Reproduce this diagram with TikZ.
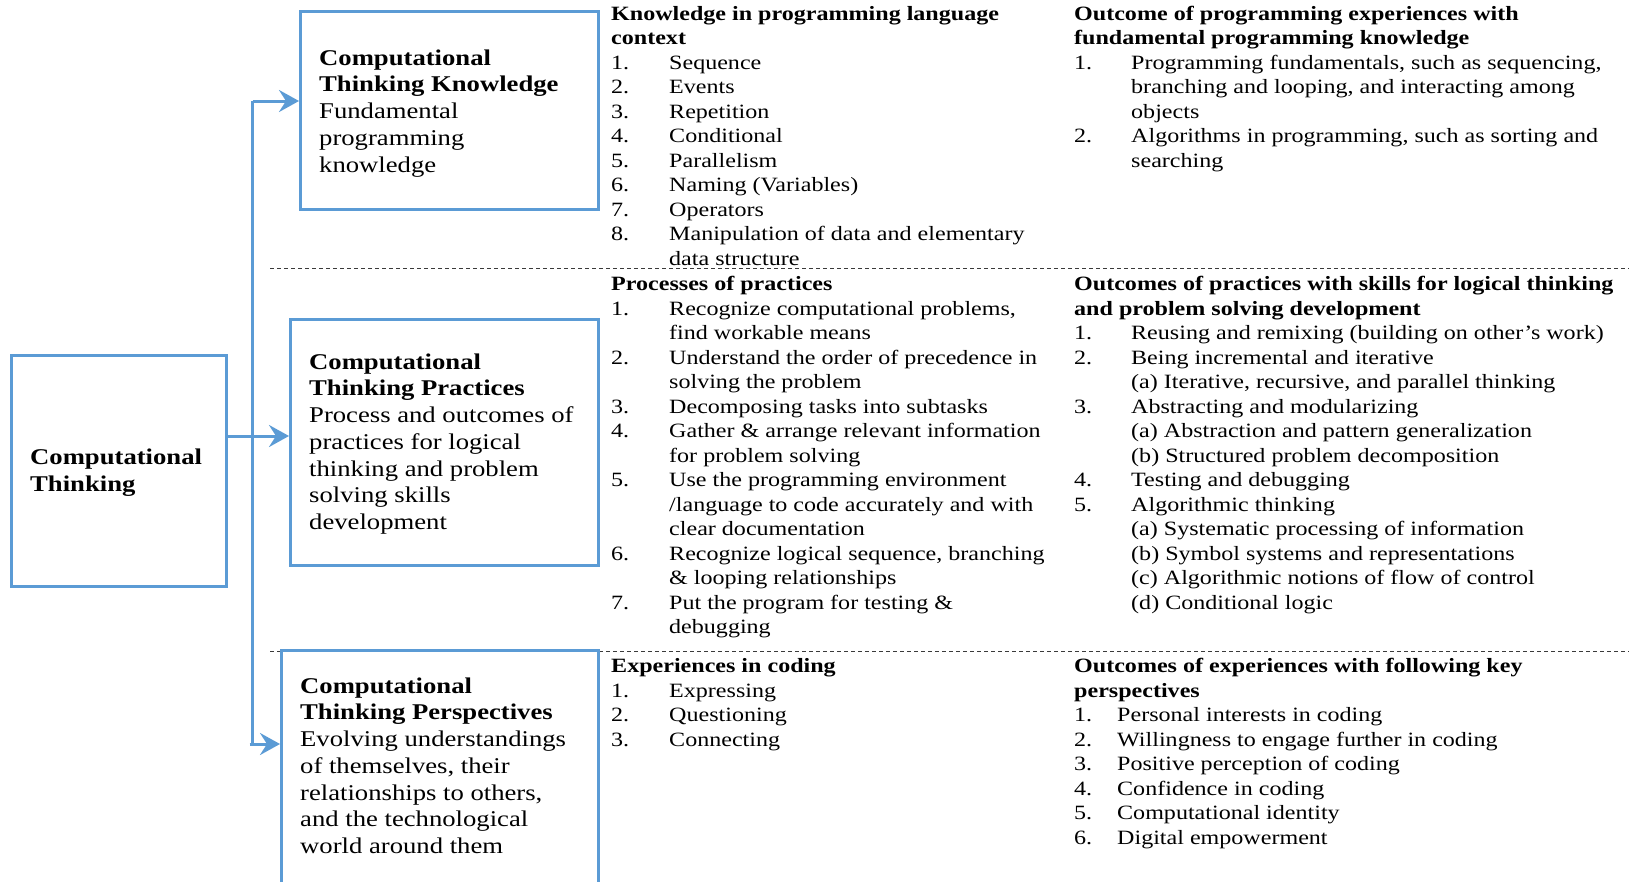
\documentclass[tikz,border=0pt]{standalone}
\usepackage{fontspec}
\setmainfont{Liberation Serif}[FakeStretch=1.185]
\usetikzlibrary{arrows.meta}
\definecolor{ctblue}{HTML}{5B9BD5}
\definecolor{rulegray}{HTML}{3A3A3A}
% list label of fixed width, and the indent of a wrapped list line
\newcommand\numlabel[2][58pt]{\makebox[#1][l]{#2}}
\newcommand\wrapind[1][58pt]{\hspace*{#1}}

\begin{document}
\begin{tikzpicture}[x=1pt,y=-1pt,
  box/.style={draw=ctblue, line width=2.5pt, inner sep=0pt, anchor=north west},
  boxtext/.style={anchor=north west, inner sep=0pt, align=left,
    font=\fontsize{22.5}{26.75}\selectfont},
  coltext/.style={anchor=north west, inner sep=0pt, align=left,
    font=\fontsize{20.3}{24.5}\selectfont},
  link/.style={draw=ctblue, line width=3pt},
  arr/.style={link, -{Stealth[length=20pt,width=22pt,inset=7pt]}},
  sep/.style={draw=rulegray, line width=1pt, dash pattern=on 4pt off 3pt}
]
\useasboundingbox (0,0) rectangle (1629,881);
\fill[white] (0,0) rectangle (1629,881);

% section separators
\coordinate (s1a) at (270,268);   \coordinate (s1b) at (1629,268);
\coordinate (s2a) at (270,651.5); \coordinate (s2b) at (1629,651.5);
\draw[sep] (s1a) -- (s1b);
\draw[sep] (s2a) -- (s2b);

% boxes
\node[box, minimum width=215pt, minimum height=231pt] (ct) at (10,354) {};
\node[box, minimum width=298pt, minimum height=198pt] (b1) at (299,10) {};
\node[box, minimum width=308pt, minimum height=246pt] (b2) at (289,318) {};
\node[box, minimum width=317pt, minimum height=246pt] (b3) at (280,649) {};

\node[boxtext] (ctt) at (30,445.8) {\strut\textbf{Computational}\\\textbf{Thinking}};
\node[boxtext] (b1t) at (319,46.3) {\strut\textbf{Computational}\\\textbf{Thinking Knowledge}\\
  Fundamental\\programming\\knowledge};
\node[boxtext] (b2t) at (309,350.3) {\strut\textbf{Computational}\\\textbf{Thinking Practices}\\
  Process and outcomes of\\practices for logical\\thinking and problem\\solving skills\\development};
\node[boxtext] (b3t) at (300,674.3) {\strut\textbf{Computational}\\\textbf{Thinking Perspectives}\\
  Evolving understandings\\of themselves, their\\relationships to others,\\and the technological\\world around them};

% connectors
\coordinate (jt) at (252.5,101);
\coordinate (jb) at (252.5,744);
\coordinate (jm) at (0,436);
\draw[link] (jt) -- (jb);
\draw[arr] (jt) -- (jt -| b1.west);
\draw[arr] (ct.east |- jm) -- (b2.west |- jm);
\draw[arr] ([xshift=-3pt]jb) -- (jb -| b3.west);

% knowledge row
\node[coltext] (k1) at (611,3.05) {\strut\textbf{Knowledge in programming language}\\\textbf{context}\\
  \numlabel{1.}Sequence\\
  \numlabel{2.}Events\\
  \numlabel{3.}Repetition\\
  \numlabel{4.}Conditional\\
  \numlabel{5.}Parallelism\\
  \numlabel{6.}Naming (Variables)\\
  \numlabel{7.}Operators\\
  \numlabel{8.}Manipulation of data and elementary\\
  \wrapind data structure};
\node[coltext] (k2) at (1074,3.05) {\strut\textbf{Outcome of programming experiences with}\\\textbf{fundamental programming knowledge}\\
  \numlabel[57pt]{1.}Programming fundamentals, such as sequencing,\\
  \wrapind[57pt]branching and looping, and interacting among\\
  \wrapind[57pt]objects\\
  \numlabel[57pt]{2.}Algorithms in programming, such as sorting and\\
  \wrapind[57pt]searching};

% practices row
\node[coltext] (p1) at (611,273.25) {\strut\textbf{Processes of practices}\\
  \numlabel{1.}Recognize computational problems,\\
  \wrapind find workable means\\
  \numlabel{2.}Understand the order of precedence in\\
  \wrapind solving the problem\\
  \numlabel{3.}Decomposing tasks into subtasks\\
  \numlabel{4.}Gather \& arrange relevant information\\
  \wrapind for problem solving\\
  \numlabel{5.}Use the programming environment\\
  \wrapind /language to code accurately and with\\
  \wrapind clear documentation\\
  \numlabel{6.}Recognize logical sequence, branching\\
  \wrapind \& looping relationships\\
  \numlabel{7.}Put the program for testing \&\\
  \wrapind debugging};
\node[coltext] (p2) at (1074,273.25) {\strut\textbf{Outcomes of practices with skills for logical thinking}\\\textbf{and problem solving development}\\
  \numlabel[57pt]{1.}Reusing and remixing (building on other’s work)\\
  \numlabel[57pt]{2.}Being incremental and iterative\\
  \wrapind[57pt](a) Iterative, recursive, and parallel thinking\\
  \numlabel[57pt]{3.}Abstracting and modularizing\\
  \wrapind[57pt](a) Abstraction and pattern generalization\\
  \wrapind[57pt](b) Structured problem decomposition\\
  \numlabel[57pt]{4.}Testing and debugging\\
  \numlabel[57pt]{5.}Algorithmic thinking\\
  \wrapind[57pt](a) Systematic processing of information\\
  \wrapind[57pt](b) Symbol systems and representations\\
  \wrapind[57pt](c) Algorithmic notions of flow of control\\
  \wrapind[57pt](d) Conditional logic};

% perspectives row
\node[coltext] (e1) at (611,655.55) {\strut\textbf{Experiences in coding}\\
  \numlabel{1.}Expressing\\
  \numlabel{2.}Questioning\\
  \numlabel{3.}Connecting};
\node[coltext] (e2) at (1074,655.55) {\strut\textbf{Outcomes of experiences with following key}\\\textbf{perspectives}\\
  \numlabel[43pt]{1.}Personal interests in coding\\
  \numlabel[43pt]{2.}Willingness to engage further in coding\\
  \numlabel[43pt]{3.}Positive perception of coding\\
  \numlabel[43pt]{4.}Confidence in coding\\
  \numlabel[43pt]{5.}Computational identity\\
  \numlabel[43pt]{6.}Digital empowerment};
\end{tikzpicture}
\end{document}
